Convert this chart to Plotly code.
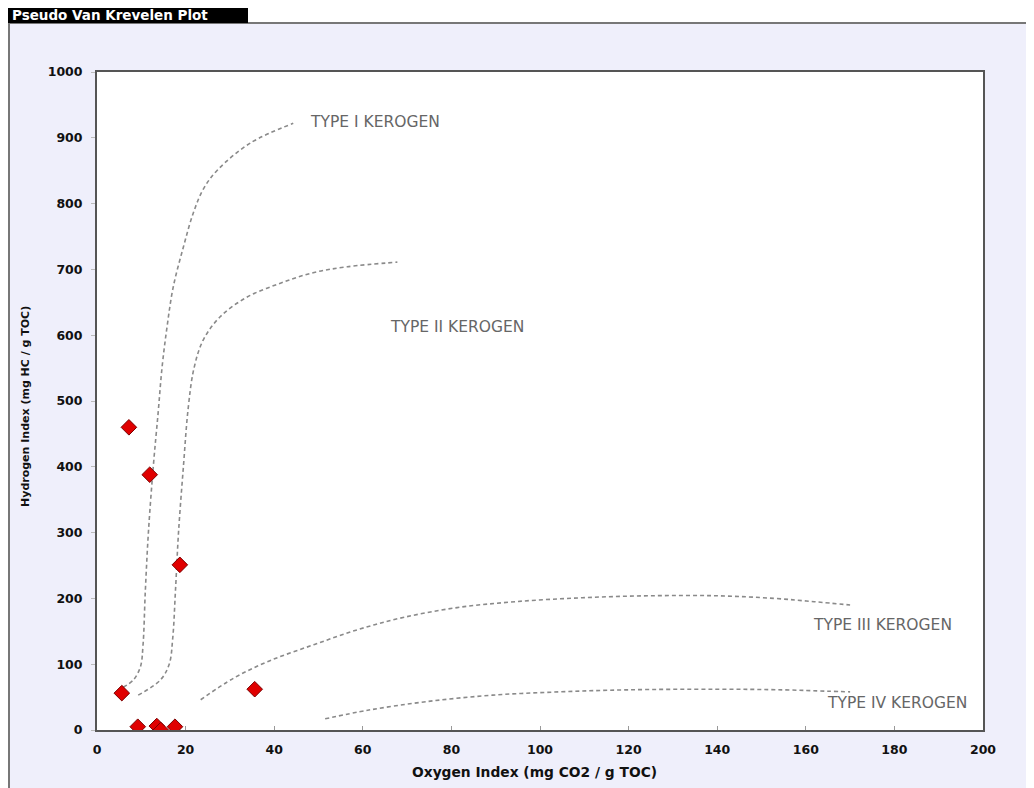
import plotly.graph_objects as go

# ---------------- data ----------------
sample_oi = [7.2, 11.9, 18.7, 5.6, 35.6, 9.2, 13.5, 14.4, 17.6]
sample_hi = [460, 388, 251, 56, 62, 5, 6, 0, 5]

type1_x = [5.9, 8.2, 9.8, 10.4, 10.9, 11.6, 12.7, 13.8, 14.7, 15.8, 17.2, 19.5, 21.7, 24.0, 27.2, 34.6, 44.3]
type1_y = [65, 76, 96, 130, 210, 300, 400, 482, 552, 612, 673, 734, 785, 822, 851, 892, 922]

type2_x = [9.3, 14.3, 16.3, 17.1, 17.7, 18.4, 19.5, 20.6, 21.9, 24.0, 27.8, 33.9, 41.4, 48.8, 56.5, 67.8]
type2_y = [53, 76, 100, 140, 210, 300, 400, 490, 550, 593, 628, 658, 679, 695, 704, 711]

type3_x = [23.4, 30.9, 38.9, 49.1, 59.1, 69.1, 81.3, 94.4, 109.5, 124.7, 139.8, 152.9, 161.9, 170]
type3_y = [46, 79, 105, 130, 153, 171, 186, 195, 201, 204, 204, 200, 195, 190]

type4_x = [51.5, 61.1, 74.2, 89.3, 104.5, 119.5, 139.8, 154.9, 164.9, 170]
type4_y = [17, 30, 43, 53, 58, 61, 62, 61, 59, 58]

label_text = ["TYPE I KEROGEN", "TYPE II KEROGEN", "TYPE III KEROGEN", "TYPE IV KEROGEN"]
label_x = [62.8, 81.3, 177.3, 180.6]
label_y = [924, 612, 160, 41]

x_ticks = list(range(0, 201, 20))
y_ticks = list(range(0, 1001, 100))

# ---------------- layout geometry (figure pixels; page body adds 8px offset) ----------------
W, H = 1034, 788
OFF = 8
L, T = 97 - OFF, 72 - OFF
R = W - (983 - OFF)
B = H - (730 - OFF)
PW, PH = W - L - R, H - T - B


def px(x):
    return (x - OFF - L) / PW


def py(y):
    return (H - B - (y - OFF)) / PH


LAV = "#EFEFFB"
fig = go.Figure()

curve_style = dict(color="#8a8a8a", width=1.6, dash="4px,3px", shape="spline", smoothing=1.0)
for cx, cy in [(type1_x, type1_y), (type2_x, type2_y), (type3_x, type3_y), (type4_x, type4_y)]:
    fig.add_trace(go.Scatter(x=cx, y=cy, mode="lines", line=curve_style,
                             hoverinfo="skip", showlegend=False))

fig.add_trace(go.Scatter(
    x=sample_oi, y=sample_hi, mode="markers",
    marker=dict(symbol="diamond", size=12, color="#E00000",
                line=dict(color="#7a0000", width=1)),
    showlegend=False))

for t, x, y in zip(label_text, label_x, label_y):
    fig.add_annotation(x=x, y=y, text=t, showarrow=False,
                       font=dict(family="DejaVu Sans", size=15.5, color="#666666"))

tickfont = dict(family="DejaVu Sans", size=12.5, color="#111111", weight="bold")

fig.update_xaxes(range=[0, 200], tickvals=x_ticks, ticks="inside", ticklen=4,
                 tickcolor="#999999", tickfont=tickfont, showgrid=False, zeroline=False,
                 showline=True, linecolor="#555555", linewidth=2, mirror=True,
                 ticklabelstandoff=7)
fig.update_yaxes(range=[0, 1000], tickvals=y_ticks, ticks="outside", ticklen=4,
                 tickcolor="#bbbbbb", tickfont=tickfont, showgrid=False, zeroline=False,
                 showline=True, linecolor="#555555", linewidth=2, mirror=True,
                 ticklabelstandoff=6)

shapes = [
    # white strip at top and left (outside the framed panel)
    dict(type="rect", xref="paper", yref="paper", x0=px(0), x1=px(W + OFF), y0=py(23), y1=py(0),
         fillcolor="white", line=dict(width=0), layer="above"),
    dict(type="rect", xref="paper", yref="paper", x0=px(0), x1=px(9), y0=py(H + OFF), y1=py(0),
         fillcolor="white", line=dict(width=0), layer="above"),
    # frame lines
    dict(type="line", xref="paper", yref="paper", x0=px(9), x1=px(W + OFF), y0=py(23), y1=py(23),
         line=dict(color="#777777", width=2), layer="above"),
    dict(type="line", xref="paper", yref="paper", x0=px(9), x1=px(9), y0=py(23), y1=py(H + OFF),
         line=dict(color="#777777", width=2), layer="above"),
    # black title tab
    dict(type="rect", xref="paper", yref="paper", x0=px(6), x1=px(248), y0=py(23), y1=py(4),
         fillcolor="black", line=dict(width=0), layer="above"),
]

fig.add_annotation(xref="paper", yref="paper", x=px(10), y=py(15), xanchor="left", yanchor="middle",
                   text="Pseudo Van Krevelen Plot", showarrow=False,
                   font=dict(family="DejaVu Sans", size=13.5, color="white", weight="bold"))
fig.add_annotation(xref="paper", yref="paper", x=px(534), y=py(772), xanchor="center", yanchor="middle",
                   text="Oxygen Index (mg CO2 / g TOC)", showarrow=False,
                   font=dict(family="DejaVu Sans", size=13.8, color="#111111", weight="bold"))
fig.add_annotation(xref="paper", yref="paper", x=px(25), y=py(407), xanchor="center", yanchor="middle",
                   text="Hydrogen Index (mg HC / g TOC)", showarrow=False, textangle=-90,
                   font=dict(family="DejaVu Sans", size=11, color="#111111", weight="bold"))

fig.update_layout(width=W, height=H, margin=dict(l=L, r=R, t=T, b=B),
                  paper_bgcolor=LAV, plot_bgcolor="white", shapes=shapes,
                  showlegend=False)

fig.write_html("out.html")
